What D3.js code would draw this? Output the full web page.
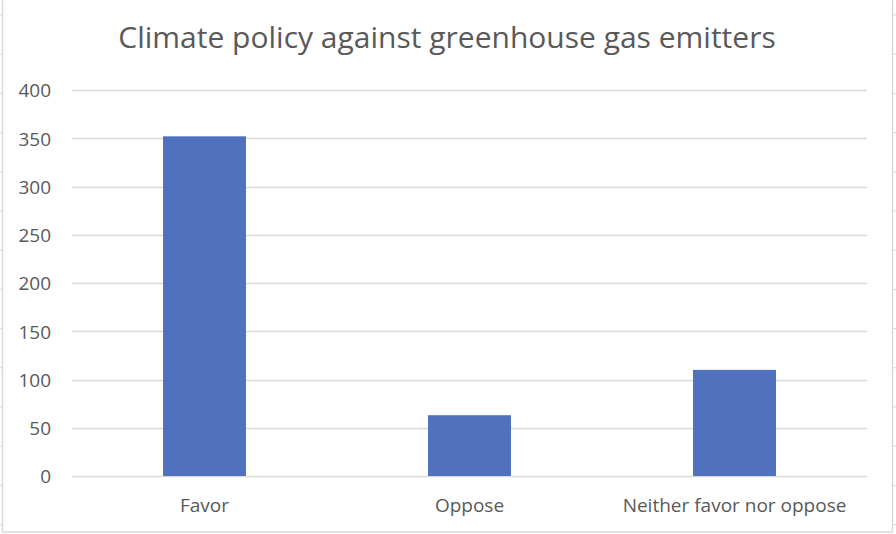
<!DOCTYPE html>
<html><head><meta charset="utf-8">
<script src="https://cdn.jsdelivr.net/npm/d3@7"></script>
<style>body{margin:0;background:#fff}svg{display:block}</style>
</head><body>
<svg id="c" width="896" height="534"></svg>
<script>
const title = "Climate policy against greenhouse gas emitters";
const categories = ["Favor", "Oppose", "Neither favor nor oppose"];
const values = [352, 63, 110];
const yTicks = [0, 50, 100, 150, 200, 250, 300, 350, 400];

(function () {
const svg = d3.select("#c");
const font = "Open Sans, 'DejaVu Sans', sans-serif";
const textColor = "#595959";

// outer frame
svg.append("rect").attr("x", 2.5).attr("y", -1).attr("width", 890).attr("height", 533)
  .attr("fill", "#fff").attr("stroke", "#d9d9d9").attr("stroke-width", 1.5);
// row marks along frame edges
const rowMarks = d3.range(15, 530, 39.2);
svg.selectAll(".rm").data(rowMarks).join("line")
  .attr("x1", 0).attr("x2", 2).attr("y1", d => d).attr("y2", d => d)
  .attr("stroke", "#d9d9d9");
svg.selectAll(".rm2").data(rowMarks).join("line")
  .attr("x1", 893).attr("x2", 896).attr("y1", d => d).attr("y2", d => d)
  .attr("stroke", "#d9d9d9");

const pL = 72, pR = 867, pT = 90, pB = 476;
const x = d3.scaleBand().domain(categories).range([pL, pR]).paddingInner(0.687).paddingOuter(0.3435);
const y = d3.scaleLinear().domain([0, 400]).range([pB, pT]);

// gridlines
svg.append("g").selectAll("line").data(yTicks).join("line")
  .attr("x1", pL).attr("x2", pR)
  .attr("y1", d => Math.round(y(d)) + 0.5).attr("y2", d => Math.round(y(d)) + 0.5)
  .attr("stroke", "#d9d9d9").attr("stroke-width", 1.5);

// y axis labels
const yAxis = d3.axisLeft(y).tickValues(yTicks).tickSize(0).tickPadding(0);
const gy = svg.append("g").attr("transform", `translate(${51},0)`).call(yAxis);
gy.select(".domain").remove();
gy.selectAll("text").attr("fill", textColor).attr("font-family", font).attr("font-size", 19).attr("dy", "0.36em");

// bars
svg.append("g").selectAll("rect").data(values).join("rect")
  .attr("x", (d, i) => x(categories[i]))
  .attr("width", x.bandwidth())
  .attr("y", d => y(d))
  .attr("height", d => y(0) - y(d))
  .attr("fill", "#4f71be");

// x axis labels
const xAxis = d3.axisBottom(x).tickSize(0).tickPadding(0);
const gx = svg.append("g").attr("transform", `translate(0,${pB})`).call(xAxis);
gx.select(".domain").remove();
gx.selectAll("text").attr("fill", textColor).attr("font-family", font).attr("font-size", 19)
  .attr("dy", 0).attr("y", 36);

// title
svg.append("text").attr("x", 447).attr("y", 48).attr("text-anchor", "middle")
  .attr("fill", textColor).attr("font-family", font).attr("font-size", 30)
  .text(title);
})();
</script>
</body></html>
